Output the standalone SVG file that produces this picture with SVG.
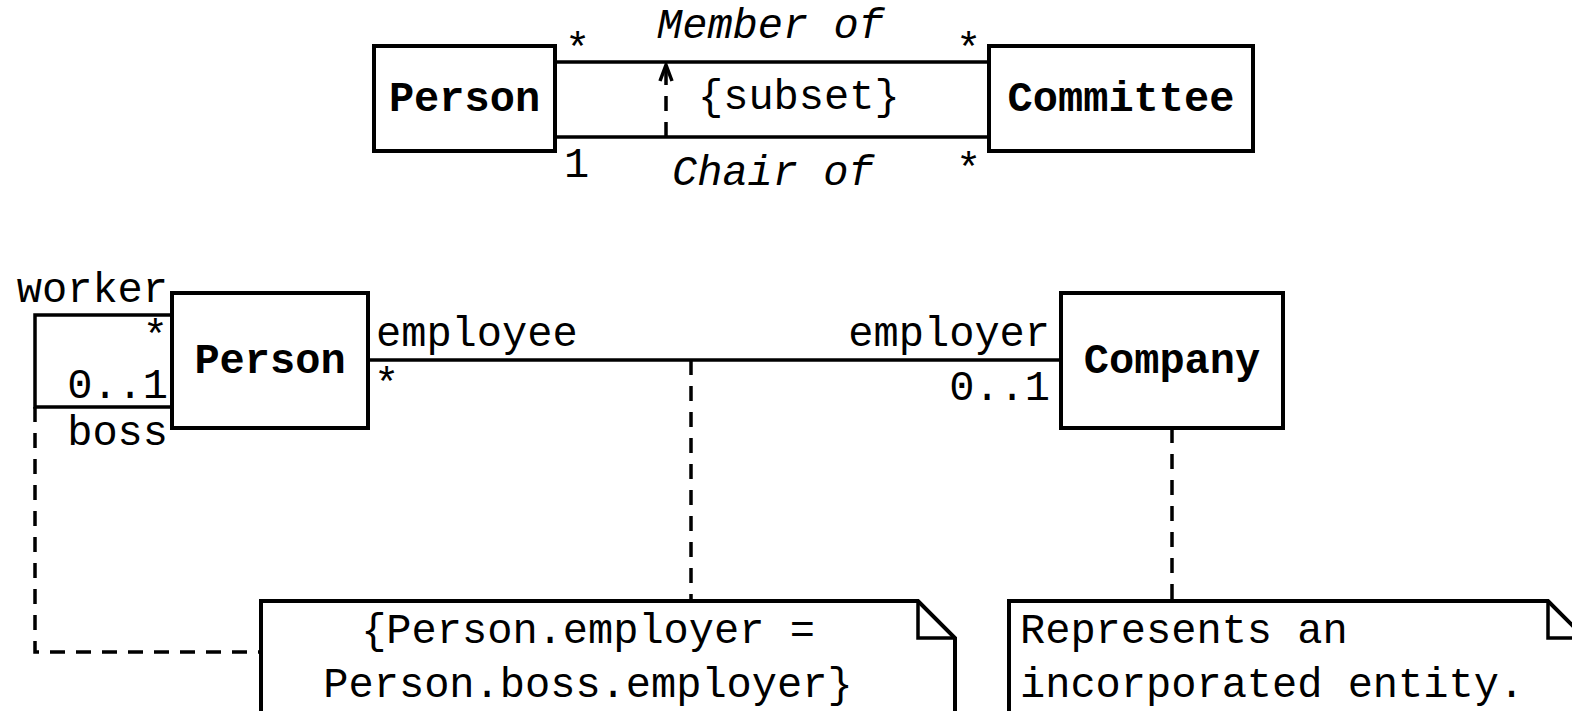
<svg xmlns="http://www.w3.org/2000/svg" width="1572" height="711" viewBox="0 0 1572 711">
  <style>
    .box { fill: #ffffff; stroke: #000000; stroke-width: 4; }
    .line { fill: none; stroke: #000000; stroke-width: 3.5; }
    .dash { fill: none; stroke: #000000; stroke-width: 3.5; stroke-dasharray: 15 11; }
    .t { font-family: "Liberation Mono", "Courier New", monospace; font-size: 42px; fill: #000000; }
    .b { font-weight: bold; }
    .i { font-style: italic; }
    .m { text-anchor: middle; }
    .e { text-anchor: end; }
  </style>
  <defs>
    <!-- open arrowhead, drawn pointing along +x so orient="auto" follows the line -->
    <marker id="openArrow" markerWidth="20" markerHeight="16" refX="17" refY="8" orient="auto" markerUnits="userSpaceOnUse" viewBox="0 0 20 16">
      <path d="M1 2 L17 8 L1 14" fill="none" stroke="#000000" stroke-width="3.5"/>
    </marker>
  </defs>

  <!-- connectors -->
  <g id="connectors">
    <!-- Member of / Chair of associations -->
    <line class="line" x1="555" y1="62" x2="989" y2="62"/>
    <line class="line" x1="555" y1="137" x2="989" y2="137"/>
    <!-- subset dependency -->
    <line class="dash" x1="666" y1="137" x2="666" y2="65" stroke-dasharray="11 9" marker-end="url(#openArrow)"/>
    <!-- boss/worker self-association -->
    <polyline class="line" points="172,315 35,315 35,407 172,407"/>
    <!-- employment association -->
    <line class="line" x1="368" y1="360" x2="1061" y2="360"/>
    <!-- note anchors -->
    <polyline class="dash" points="35,407 35,652 261,652"/>
    <line class="dash" x1="691" y1="360" x2="691" y2="601"/>
    <line class="dash" x1="1172" y1="428" x2="1172" y2="601"/>

    <!-- association labels -->
    <text class="t i" x="657" y="38">Member of</text>
    <text class="t" x="698" y="109">{subset}</text>
    <text class="t i" x="672" y="185">Chair of</text>
    <text class="t" x="565" y="62">*</text>
    <text class="t" x="564" y="177">1</text>
    <text class="t" x="956" y="62">*</text>
    <text class="t" x="956" y="182">*</text>

    <text class="t e" x="168" y="302">worker</text>
    <text class="t e" x="168" y="349">*</text>
    <text class="t e" x="168" y="398">0..1</text>
    <text class="t e" x="168" y="445">boss</text>

    <text class="t" x="376" y="346">employee</text>
    <text class="t" x="374" y="397">*</text>
    <text class="t e" x="1050" y="346">employer</text>
    <text class="t e" x="1050" y="400">0..1</text>
  </g>

  <g id="person-top">
    <rect class="box" x="374" y="46" width="181" height="105"/>
    <text class="t b m" x="464.5" y="111">Person</text>
  </g>

  <g id="committee">
    <rect class="box" x="989" y="46" width="264" height="105"/>
    <text class="t b m" x="1121" y="111">Committee</text>
  </g>

  <g id="person">
    <rect class="box" x="172" y="293" width="196" height="135"/>
    <text class="t b m" x="270" y="373">Person</text>
  </g>

  <g id="company">
    <rect class="box" x="1061" y="293" width="222" height="135"/>
    <text class="t b m" x="1172" y="373">Company</text>
  </g>

  <g id="note-constraint">
    <path class="box" d="M261 601 L918 601 L955 638 L955 720 L261 720 Z"/>
    <polyline class="line" points="918,601 918,638 955,638"/>
    <text class="t m" x="588" y="643">{Person.employer =</text>
    <text class="t m" x="588" y="697">Person.boss.employer}</text>
  </g>

  <g id="note-company">
    <path class="box" d="M1009 601 L1548 601 L1585 638 L1585 720 L1009 720 Z"/>
    <polyline class="line" points="1548,601 1548,638 1585,638"/>
    <text class="t" x="1020" y="643">Represents an</text>
    <text class="t" x="1020" y="697">incorporated entity.</text>
  </g>
</svg>
